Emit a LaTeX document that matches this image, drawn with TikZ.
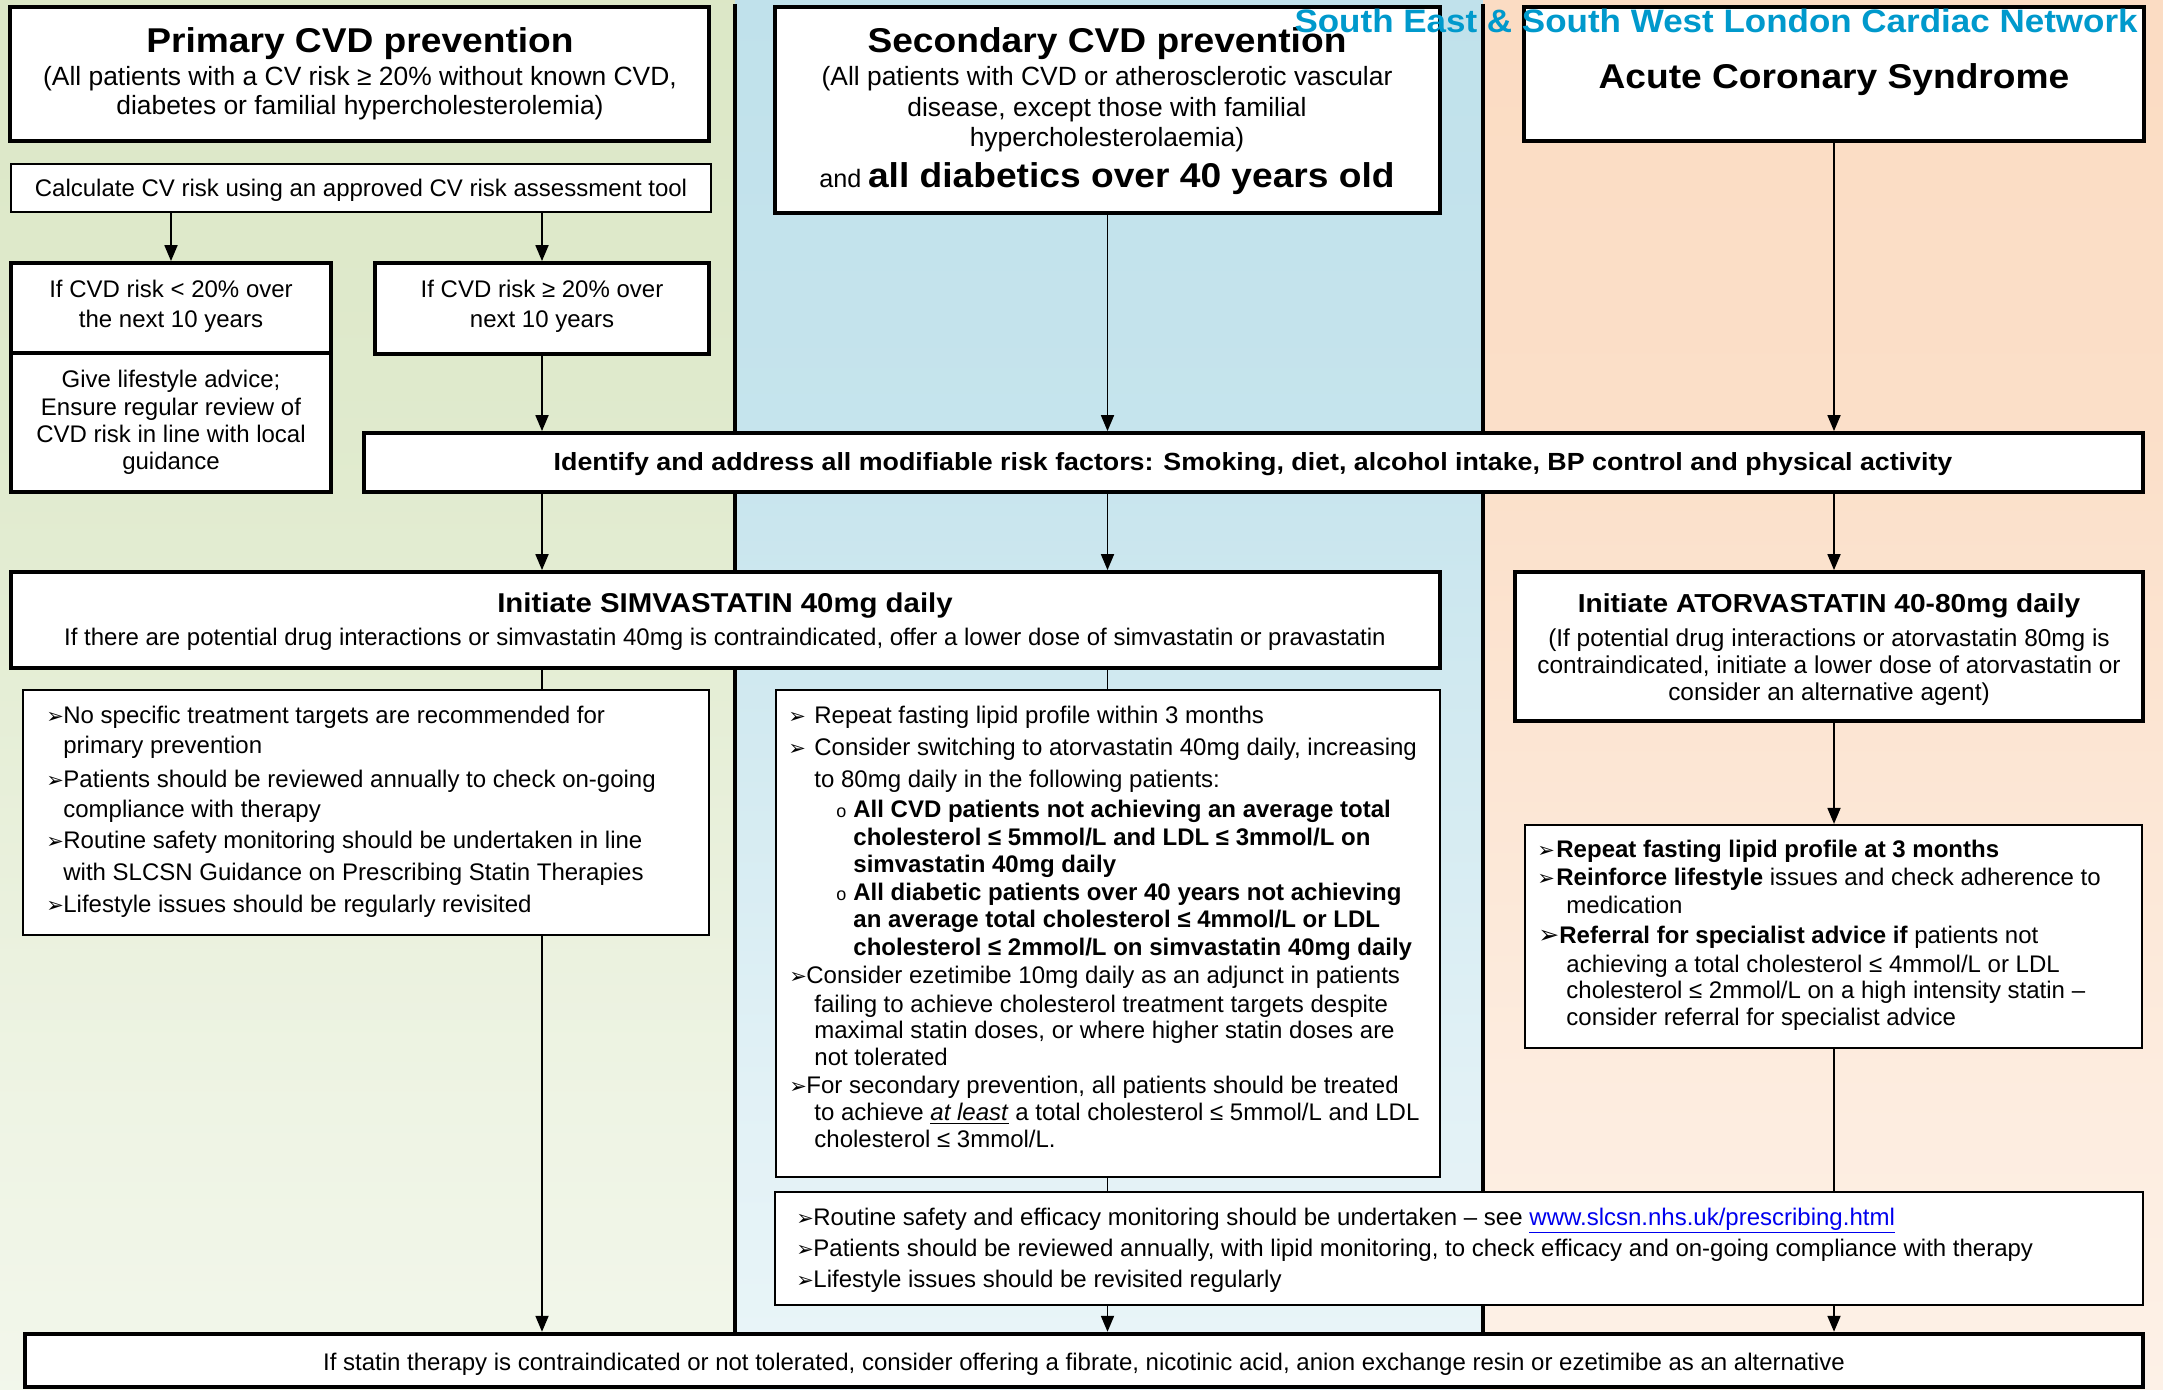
\documentclass[tikz,border=0pt]{standalone}
\usepackage{fontspec}
\setmainfont{Liberation Sans}
\newfontfamily\hdfont{Liberation Sans}[FakeStretch=1.08]
\newfontfamily\dingfont{DejaVu Sans}
\usetikzlibrary{arrows.meta,fit}

% column colours and their fades towards white
\definecolor{gtop}{RGB}{213,227,188}
\definecolor{btop}{RGB}{183,221,232}
\definecolor{ptop}{RGB}{250,214,185}
\definecolor{netblue}{RGB}{0,153,204}
\definecolor{linkblue}{RGB}{0,0,238}
\colorlet{gA}{gtop!5!white}\colorlet{gB}{gtop!40!white}\colorlet{gC}{gtop!75!white}
\colorlet{bA}{btop!5!white}\colorlet{bB}{btop!40!white}\colorlet{bC}{btop!80!white}
\colorlet{pA}{ptop!8!white}\colorlet{pB}{ptop!45!white}\colorlet{pC}{ptop!78!white}
\pgfdeclareverticalshading{gfade}{100bp}{color(0bp)=(gA); color(35bp)=(gB); color(60bp)=(gC); color(100bp)=(gtop)}
\pgfdeclareverticalshading{bfade}{100bp}{color(0bp)=(bA); color(35bp)=(bB); color(60bp)=(bC); color(100bp)=(btop)}
\pgfdeclareverticalshading{pfade}{100bp}{color(0bp)=(pA); color(35bp)=(pB); color(60bp)=(pC); color(100bp)=(ptop)}

% bullet marks
\newcommand\barr[1][8.5pt]{\llap{\makebox[#1][l]{\dingfont\fontsize{10.5}{10.5}\selectfont ➢}}}
\newcommand\barrbig[1][10.5pt]{\llap{\makebox[#1][l]{\dingfont\fontsize{12.5}{12.5}\selectfont ➢}}}
\newcommand\subo{\llap{\makebox[8.5pt][l]{\fontsize{9}{9}\selectfont o}}}
% one line of text: left aligned at its baseline, or centred
\newcommand\tline[4]{\node[lt] (#1) at (#2,#3) {#4};}
\newcommand\ctline[4]{\node[ct] (#1) at (#2,#3) {#4};}
\newcommand\hd[1]{\hdfont\bfseries\fontsize{#1}{#1}\selectfont}
\newcommand\sub{\fontsize{13.2}{14}\selectfont}

\begin{document}
\begin{tikzpicture}[x=0.5pt,y=-0.5pt,
  tbox/.style={draw=black,line width=1.9pt,fill=white,inner sep=0pt},
  nbox/.style={draw=black,line width=1.1pt,fill=white,inner sep=0pt},
  lt/.style={anchor=base west,inner sep=0pt,font=\fontsize{12}{14}\selectfont},
  ct/.style={anchor=base,inner sep=0pt,font=\fontsize{12}{14}\selectfont},
  sepline/.style={line width=1.6pt},
  arr/.style={line width=0.9pt,-{Triangle[length=8pt,width=6.5pt]}},
  con/.style={line width=0.9pt}]
\useasboundingbox (0,0) rectangle (2163,1390);

% background columns
\shade[shading=gfade] (0,0) rectangle (735,1390);
\shade[shading=bfade] (735,0) rectangle (1483,1390);
\shade[shading=pfade] (1483,0) rectangle (2163,1390);
\draw[sepline] (735,4) -- (735,1334);
\draw[sepline] (1483,4) -- (1483,1334);

% boxes
\node[tbox,fit={(10,7) (709,141)}] (prim) {};
\node[nbox,fit={(11,164) (711,212)}] (calc) {};
\node[tbox,fit={(11,263) (331,353)}] (lo) {};
\node[tbox,fit={(11,353) (331,492)}] (life) {};
\node[tbox,fit={(375,263) (709,354)}] (hi) {};
\node[tbox,fit={(775,7) (1440,213)}] (sec) {};
\node[tbox,fit={(1524,7) (2144,141)}] (acs) {};
\node[tbox,fit={(364,433) (2143,492)}] (ident) {};
\node[tbox,fit={(11,572) (1440,668)}] (simv) {};
\node[tbox,fit={(1515,572) (2143,721)}] (atorv) {};
\node[nbox,fit={(23,690) (709,935)}] (lbul) {};
\node[nbox,fit={(776,690) (1440,1177)}] (mbul) {};
\node[nbox,fit={(1525,825) (2142,1048)}] (rbul) {};
\node[nbox,line width=1.3pt,fit={(775,1192) (2143,1305)}] (mon) {};
\node[tbox,line width=2.2pt,fit={(25,1334) (2143,1387)}] (bot) {};

% connectors
\draw[arr] (calc.south -| lo.north) -- (lo.north);
\draw[arr] (calc.south -| hi.north) -- (hi.north);
\draw[arr] (hi.south) -- (hi.south |- ident.north);
\draw[arr] (sec.south) -- (sec.south |- ident.north);
\draw[arr] (acs.south) -- (acs.south |- ident.north);
\draw[arr] (ident.south -| hi.south) -- (simv.north -| hi.south);
\draw[arr] (ident.south -| sec.south) -- (simv.north -| sec.south);
\draw[arr] (ident.south -| acs.south) -- (atorv.north -| acs.south);
\draw[con] (simv.south -| hi.south) -- (lbul.north -| hi.south);
\draw[con] (simv.south -| sec.south) -- (mbul.north -| sec.south);
\draw[arr] (lbul.south -| hi.south) -- (bot.north -| hi.south);
\draw[con] (mbul.south -| sec.south) -- (mon.north -| sec.south);
\draw[arr] (mon.south -| sec.south) -- (bot.north -| sec.south);
\draw[arr] (atorv.south -| acs.south) -- (rbul.north -| acs.south);
\draw[con] (rbul.south -| acs.south) -- (mon.north -| acs.south);
\draw[arr] (mon.south -| acs.south) -- (bot.north -| acs.south);

% primary prevention column
\ctline{t1}{360}{53}{\hd{17.2}Primary CVD prevention}
\ctline{t2}{360}{86}{\sub(All patients with a CV risk ≥ 20\% without known CVD,}
\ctline{t3}{360}{115}{\sub diabetes or familial hypercholesterolemia)}
\ctline{t4}{361}{197}{Calculate CV risk using an approved CV risk assessment tool}
\ctline{t5}{171}{298}{If CVD risk < 20\% over}
\ctline{t6}{171}{328}{the next 10 years}
\ctline{t7}{171}{388}{Give lifestyle advice;}
\ctline{t8}{171}{416}{Ensure regular review of}
\ctline{t9}{171}{443}{CVD risk in line with local}
\ctline{t10}{171}{470}{guidance}
\ctline{t11}{542}{298}{If CVD risk ≥ 20\% over}
\ctline{t12}{542}{328}{next 10 years}

% secondary prevention column
\ctline{s1}{1107}{53}{\hd{17.2}Secondary CVD prevention}
\ctline{s2}{1107}{86}{\sub(All patients with CVD or atherosclerotic vascular}
\ctline{s3}{1107}{117}{\sub disease, except those with familial}
\ctline{s4}{1107}{147}{\sub hypercholesterolaemia)}
\ctline{s5}{1107}{188}{{\fontsize{12.6}{14}\selectfont and} {\hd{17.2}all diabetics over 40 years old}}

% acute coronary syndrome column
\ctline{a1}{1834}{89}{\hd{17.2}Acute Coronary Syndrome}

% shared steps
\ctline{i1}{1253}{471}{\hd{12.4}Identify and address all modifiable risk factors: Smoking, diet, alcohol intake, BP control and physical activity}
\ctline{m1}{725}{612}{\hd{13.6}Initiate SIMVASTATIN 40mg daily}
\ctline{m2}{725}{645}{If there are potential drug interactions or simvastatin 40mg is contraindicated, offer a lower dose of simvastatin or pravastatin}
\ctline{r1}{1829}{612}{\hd{13}Initiate ATORVASTATIN 40-80mg daily}
\ctline{r2}{1829}{646}{\fontsize{12.2}{14}\selectfont(If potential drug interactions or atorvastatin 80mg is}
\ctline{r3}{1829}{673}{\fontsize{12.2}{14}\selectfont contraindicated, initiate a lower dose of atorvastatin or}
\ctline{r4}{1829}{700}{\fontsize{12.2}{14}\selectfont consider an alternative agent)}

% primary follow-up
\tline{l1}{63}{723}{\barr No specific treatment targets are recommended for}
\tline{l2}{63}{753}{primary prevention}
\tline{l3}{63}{787}{\barr Patients should be reviewed annually to check on-going}
\tline{l4}{63}{817}{compliance with therapy}
\tline{l5}{63}{848}{\barr Routine safety monitoring should be undertaken in line}
\tline{l6}{63}{880}{with SLCSN Guidance on Prescribing Statin Therapies}
\tline{l7}{63}{912}{\barr Lifestyle issues should be regularly revisited}

% secondary follow-up
\tline{c1}{814}{723}{\barr[13pt]Repeat fasting lipid profile within 3 months}
\tline{c2}{814}{755}{\barr[13pt]Consider switching to atorvastatin 40mg daily, increasing}
\tline{c3}{814}{787}{to 80mg daily in the following patients:}
\tline{c4}{853}{817}{\subo\textbf{All CVD patients not achieving an average total}}
\tline{c5}{853}{845}{\textbf{cholesterol ≤ 5mmol/L and LDL ≤ 3mmol/L on}}
\tline{c6}{853}{872}{\textbf{simvastatin 40mg daily}}
\tline{c7}{853}{900}{\subo\textbf{All diabetic patients over 40 years not achieving}}
\tline{c8}{853}{927}{\textbf{an average total cholesterol ≤ 4mmol/L or LDL}}
\tline{c9}{853}{955}{\textbf{cholesterol ≤ 2mmol/L on simvastatin 40mg daily}}
\tline{c10}{806}{983}{\barr Consider ezetimibe 10mg daily as an adjunct in patients}
\tline{c11}{814}{1012}{failing to achieve cholesterol treatment targets despite}
\tline{c12}{814}{1038}{maximal statin doses, or where higher statin doses are}
\tline{c13}{814}{1065}{not tolerated}
\tline{c14}{806}{1093}{\barr For secondary prevention, all patients should be treated}
\tline{c15}{814}{1120}{to achieve \underline{\textit{at least}} a total cholesterol ≤ 5mmol/L and LDL}
\tline{c16}{814}{1147}{cholesterol ≤ 3mmol/L.}

% acute coronary syndrome follow-up
\tline{e1}{1556}{857}{\barr[9.5pt]\textbf{Repeat fasting lipid profile at 3 months}}
\tline{e2}{1556}{885}{\barr[9.5pt]\textbf{Reinforce lifestyle} issues and check adherence to}
\tline{e3}{1566}{913}{medication}
\tline{e4}{1559}{943}{\barrbig\textbf{Referral for specialist advice if} patients not}
\tline{e5}{1566}{972}{achieving a total cholesterol ≤ 4mmol/L or LDL}
\tline{e6}{1566}{998}{cholesterol ≤ 2mmol/L on a high intensity statin –}
\tline{e7}{1566}{1025}{consider referral for specialist advice}

% monitoring
\tline{n1}{813}{1225}{\barr Routine safety and efficacy monitoring should be undertaken – see \textcolor{linkblue}{\underline{www.slcsn.nhs.uk/prescribing.html}}}
\tline{n2}{813}{1256}{\barr Patients should be reviewed annually, with lipid monitoring, to check efficacy and on-going compliance with therapy}
\tline{n3}{813}{1287}{\barr Lifestyle issues should be revisited regularly}

% alternatives
\ctline{z1}{1084}{1370}{If statin therapy is contraindicated or not tolerated, consider offering a fibrate, nicotinic acid, anion exchange resin or ezetimibe as an alternative}

% network name across the top
\node[anchor=base east,inner sep=0pt,text=netblue,font=\hd{16.2}] (net) at (2138,33) {South East \& South West London Cardiac Network};
\end{tikzpicture}
\end{document}
